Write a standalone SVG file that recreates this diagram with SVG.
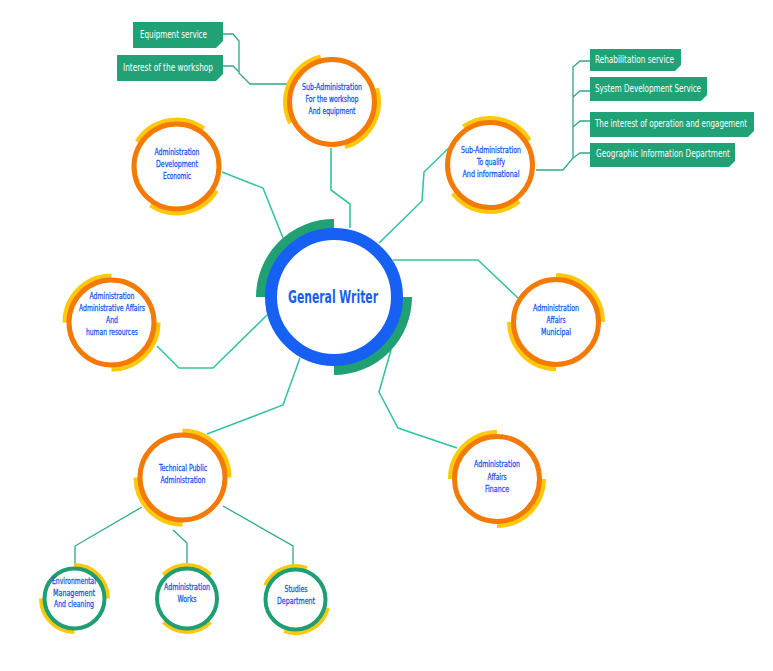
<svg xmlns="http://www.w3.org/2000/svg" width="773" height="671" viewBox="0 0 773 671">
<style>
.bg{fill:#ffffff}
.conn{fill:none;stroke:#36c2a4;stroke-width:1.6;stroke-linejoin:miter}
.conn2{fill:none;stroke:#2fa886;stroke-width:1.3}
.yel{fill:none;stroke:#ffc80a;stroke-width:6}
.yels{fill:none;stroke:#ffc80a;stroke-width:5}
.org{fill:#ffffff;stroke:#f47a06;stroke-width:5}
.grn{fill:#ffffff;stroke:#1f9e74;stroke-width:4}
.garc{fill:none;stroke:#20a073;stroke-width:10}
.blue{fill:#ffffff;stroke:#1660f4;stroke-width:12}
.box{fill:#21a276}
.bt{font-family:"Liberation Sans Narrow","DejaVu Sans Condensed","Liberation Sans",sans-serif;font-size:10px;fill:#ffffff}
.nt{font-family:"Liberation Sans Narrow","DejaVu Sans Condensed","Liberation Sans",sans-serif;font-size:9.5px;fill:#1a5af2;stroke:#1a5af2;stroke-width:0.3;text-anchor:middle}
.ct{font-family:"Liberation Sans Narrow","DejaVu Sans Condensed","Liberation Sans",sans-serif;font-size:18px;font-weight:bold;fill:#1660f4;text-anchor:middle}
</style>
<rect class="bg" x="0" y="0" width="773" height="671"/>

<g id="connectors">
  <polyline class="conn2" points="223,34 233,34 239,41 239,73 250,84 288,84"/>
  <polyline class="conn2" points="223,66 233,66 239,72"/>
  <polyline class="conn2" points="590,61 580,61 573,67 573,158 563,170 536,170"/>
  <polyline class="conn2" points="590,91 580,91 573,97"/>
  <polyline class="conn2" points="590,121 580,121 573,127"/>
  <polyline class="conn2" points="590,153 580,153 573,158"/>
  <polyline class="conn" points="331,148 331,190 350,204 350,228"/>
  <polyline class="conn" points="379,243 422,201 424,172 452,145"/>
  <polyline class="conn" points="222,172 263,188 283,238"/>
  <polyline class="conn" points="157,346 179,368 213,368 267,315"/>
  <polyline class="conn" points="393,260 478,260 518,298"/>
  <polyline class="conn" points="391,350 379,392 398,428 457,448"/>
  <polyline class="conn" points="300,358 283,405 207,434"/>
  <polyline class="conn2" points="142,507 75,546 75,566"/>
  <polyline class="conn2" points="173,530 187,543 187,567"/>
  <polyline class="conn2" points="223,506 293,546 293,568"/>
</g>

<g id="label-equipment-service">
  <polygon class="box" points="133,22 223,22 223,41 216,48 133,48"/>
  <text class="bt" x="140" y="38" textLength="67" lengthAdjust="spacingAndGlyphs">Equipment service</text>
</g>
<g id="label-interest-workshop">
  <polygon class="box" points="117,55 223,55 223,74 216,81 117,81"/>
  <text class="bt" x="123" y="71" textLength="90" lengthAdjust="spacingAndGlyphs">Interest of the workshop</text>
</g>
<g id="label-rehabilitation">
  <polygon class="box" points="590,49 681,49 681,65 675,71 590,71"/>
  <text class="bt" x="595" y="63" textLength="79" lengthAdjust="spacingAndGlyphs">Rehabilitation service</text>
</g>
<g id="label-system-dev">
  <polygon class="box" points="590,77 707,77 707,95 701,101 590,101"/>
  <text class="bt" x="595" y="92" textLength="106" lengthAdjust="spacingAndGlyphs">System Development Service</text>
</g>
<g id="label-operation">
  <polygon class="box" points="590,112 754,112 754,131 748,137 590,137"/>
  <text class="bt" transform="translate(595,127) scale(0.8,1)" x="0" y="0" textLength="190" lengthAdjust="spacingAndGlyphs">The interest of operation and engagement</text>
</g>
<g id="label-geographic">
  <polygon class="box" points="590,143 735,143 735,161 729,167 590,167"/>
  <text class="bt" x="596" y="157" textLength="134" lengthAdjust="spacingAndGlyphs">Geographic Information Department</text>
</g>

<g id="node-general-writer">
  <path class="garc" d="M261,297 A73,73 0 0 1 334,224"/>
  <path class="garc" d="M407,297 A73,73 0 0 1 334,370"/>
  <circle class="blue" cx="334" cy="297" r="63"/>
  <text class="ct" x="333" y="303" textLength="90" lengthAdjust="spacingAndGlyphs">General Writer</text>
</g>

<g id="node-workshop">
  <path class="yel" d="M291,122.9 A46,46 0 0 1 320.9,57.4"/>
  <path class="yel" d="M376,88.6 A46,46 0 0 1 344.7,146.2"/>
  <circle class="org" cx="332" cy="102" r="42.5"/>
  <text class="nt" x="332" y="90" textLength="60" lengthAdjust="spacingAndGlyphs">Sub-Administration</text>
  <text class="nt" x="332" y="102" textLength="53" lengthAdjust="spacingAndGlyphs">For the workshop</text>
  <text class="nt" x="332" y="114" textLength="47" lengthAdjust="spacingAndGlyphs">And equipment</text>
</g>

<g id="node-qualify">
  <path class="yel" d="M463.6,127.3 A46,46 0 0 1 529,140.6"/>
  <path class="yel" d="M518.9,200.7 A46,46 0 0 1 453.3,192.7"/>
  <circle class="org" cx="490" cy="165" r="42.5"/>
  <text class="nt" x="491" y="153" textLength="60" lengthAdjust="spacingAndGlyphs">Sub-Administration</text>
  <text class="nt" x="491" y="165" textLength="28" lengthAdjust="spacingAndGlyphs">To qualify</text>
  <text class="nt" x="491" y="177" textLength="57" lengthAdjust="spacingAndGlyphs">And informational</text>
</g>

<g id="node-economic">
  <path class="yel" d="M137.5,142.1 A46,46 0 0 1 203.5,129.3"/>
  <path class="yel" d="M215.9,190.2 A46,46 0 0 1 150.8,204.6"/>
  <circle class="org" cx="176.5" cy="166.5" r="42.5"/>
  <text class="nt" x="177" y="155" textLength="45" lengthAdjust="spacingAndGlyphs">Administration</text>
  <text class="nt" x="177" y="167" textLength="42" lengthAdjust="spacingAndGlyphs">Development</text>
  <text class="nt" x="177" y="179" textLength="28" lengthAdjust="spacingAndGlyphs">Economic</text>
</g>

<g id="node-hr">
  <path class="yel" d="M65.5,322.5 A46,46 0 0 1 111.5,276.5"/>
  <path class="yel" d="M157.5,322.5 A46,46 0 0 1 111.5,368.5"/>
  <circle class="org" cx="111.5" cy="322.5" r="42.5"/>
  <text class="nt" x="112" y="299" textLength="45" lengthAdjust="spacingAndGlyphs">Administration</text>
  <text class="nt" x="112" y="311" textLength="66" lengthAdjust="spacingAndGlyphs">Administrative Affairs</text>
  <text class="nt" x="112" y="323" textLength="12" lengthAdjust="spacingAndGlyphs">And</text>
  <text class="nt" x="112" y="335" textLength="52" lengthAdjust="spacingAndGlyphs">human resources</text>
</g>

<g id="node-municipal">
  <path class="yel" d="M556,276 A46,46 0 0 1 602,322"/>
  <path class="yel" d="M556,368 A46,46 0 0 1 510,322"/>
  <circle class="org" cx="556" cy="322" r="42.5"/>
  <text class="nt" x="556" y="311" textLength="46" lengthAdjust="spacingAndGlyphs">Administration</text>
  <text class="nt" x="556" y="323" textLength="19" lengthAdjust="spacingAndGlyphs">Affairs</text>
  <text class="nt" x="556" y="335" textLength="30" lengthAdjust="spacingAndGlyphs">Municipal</text>
</g>

<g id="node-finance">
  <path class="yel" d="M451,479 A46,46 0 0 1 497,433"/>
  <path class="yel" d="M543,479 A46,46 0 0 1 497,525"/>
  <circle class="org" cx="497" cy="479" r="42.5"/>
  <text class="nt" x="497" y="467" textLength="46" lengthAdjust="spacingAndGlyphs">Administration</text>
  <text class="nt" x="497" y="480" textLength="19" lengthAdjust="spacingAndGlyphs">Affairs</text>
  <text class="nt" x="497" y="492" textLength="24" lengthAdjust="spacingAndGlyphs">Finance</text>
</g>

<g id="node-technical">
  <path class="yel" d="M182.5,431.5 A46,46 0 0 1 228.5,477.5"/>
  <path class="yel" d="M182.5,523.5 A46,46 0 0 1 136.5,477.5"/>
  <circle class="org" cx="182.5" cy="477.5" r="42.5"/>
  <text class="nt" x="183" y="471" textLength="48" lengthAdjust="spacingAndGlyphs">Technical Public</text>
  <text class="nt" x="183" y="483" textLength="45" lengthAdjust="spacingAndGlyphs">Administration</text>
</g>

<g id="node-environmental">
  <path class="yels" d="M74.5,565.5 A33,33 0 0 1 107.5,598.5"/>
  <path class="yels" d="M74.5,631.5 A33,33 0 0 1 41.5,598.5"/>
  <circle class="grn" cx="74.5" cy="598.5" r="30"/>
  <text class="nt" x="74" y="584" textLength="44" lengthAdjust="spacingAndGlyphs">Environmental</text>
  <text class="nt" x="74" y="596" textLength="42" lengthAdjust="spacingAndGlyphs">Management</text>
  <text class="nt" x="74" y="607" textLength="40" lengthAdjust="spacingAndGlyphs">And cleaning</text>
</g>

<g id="node-works">
  <path class="yels" d="M163.7,575.2 A33,33 0 0 1 210.3,575.2"/>
  <path class="yels" d="M210.3,621.8 A33,33 0 0 1 163.7,621.8"/>
  <circle class="grn" cx="187" cy="598.5" r="30"/>
  <text class="nt" x="187" y="590" textLength="46" lengthAdjust="spacingAndGlyphs">Administration</text>
  <text class="nt" x="187" y="602" textLength="19" lengthAdjust="spacingAndGlyphs">Works</text>
</g>

<g id="node-studies">
  <path class="yels" d="M265.6,585.5 A33,33 0 0 1 306.8,568.5"/>
  <path class="yels" d="M327.4,608 A33,33 0 0 1 284.2,630.5"/>
  <circle class="grn" cx="295.5" cy="599.5" r="30"/>
  <text class="nt" x="296" y="592" textLength="23" lengthAdjust="spacingAndGlyphs">Studies</text>
  <text class="nt" x="296" y="604" textLength="38" lengthAdjust="spacingAndGlyphs">Department</text>
</g>
</svg>
